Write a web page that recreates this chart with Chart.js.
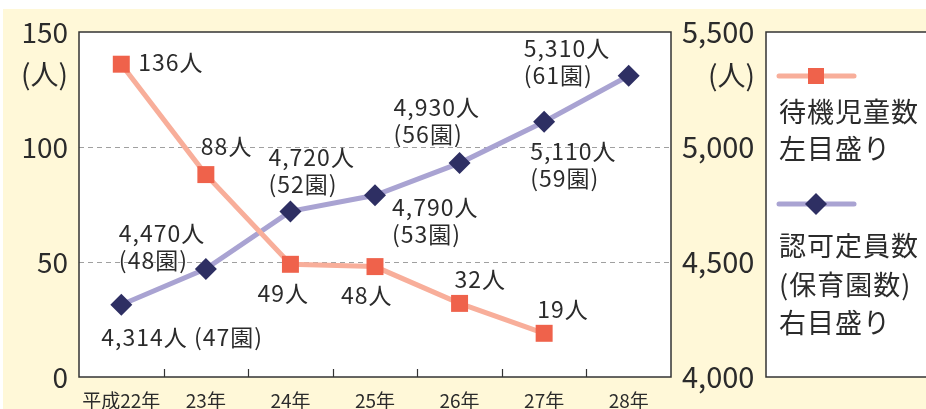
<!DOCTYPE html>
<html>
<head>
<meta charset="utf-8">
<script src="https://cdn.jsdelivr.net/npm/chart.js@4"></script>
<style>
  html, body { margin: 0; padding: 0; background: #fff; }
  #wrap { width: 926px; height: 409px; }
</style>
</head>
<body>
<div id="wrap"><canvas id="chart" width="926" height="409"></canvas></div>
<script>
const YEARS = ['平成22年', '23年', '24年', '25年', '26年', '27年', '28年'];
const WAITING = [136, 88, 49, 48, 32, 19, null];          // 待機児童数 (left axis)
const CAPACITY = [4314, 4470, 4720, 4790, 4930, 5110, 5310]; // 認可定員数 (right axis)
const NURSERIES = [47, 48, 52, 53, 56, 59, 61];            // 保育園数
const LEFT_TICKS = [0, 50, 100, 150];
const RIGHT_TICKS = [4000, 4500, 5000, 5500];

// where each label sits relative to its point: [dx to left edge, dy to first line]
const WAIT_LABEL_POS = [[17, -2], [-5, -28], [-33, 29], [-34, 29], [-5, -24], [-7, -24]];
const CAP_LABEL_POS = [[-20, 32], [-87, -36], [-22, -54], [17, 12], [-66, -56], [-14, 30], [-105, -27]];

const FONT = '"Noto Sans CJK JP", "Noto Sans", sans-serif';
const TEXT = '#2b2b2b';
const CREAM = '#fff8d8';

function fmt(v){ return v.toLocaleString('en-US'); }

const bgPlugin = {
  id: 'bg',
  beforeDraw(chart){
    const { ctx, chartArea: a, width, height } = chart;
    ctx.save();
    ctx.fillStyle = '#fff';
    ctx.fillRect(0, 0, width, height);
    ctx.fillStyle = CREAM;
    ctx.fillRect(3, 9, width - 3, height - 9);
    ctx.fillStyle = '#fff';
    ctx.fillRect(a.left, a.top, a.right - a.left, a.bottom - a.top);
    ctx.fillRect(766, a.top, width - 766, a.bottom - a.top);
    ctx.restore();
  },
  beforeDatasetsDraw(chart){
    const { ctx, chartArea: a, scales } = chart;
    ctx.save();
    ctx.strokeStyle = '#333';
    ctx.lineWidth = 1.5;
    ctx.strokeRect(a.left, a.top, a.right - a.left, a.bottom - a.top);
    // small inner ticks between categories
    ctx.lineWidth = 1.2;
    for (let i = 1; i < YEARS.length; i++) {
      const x = Math.round((scales.x.getPixelForValue(i - 1) + scales.x.getPixelForValue(i)) / 2) + 0.5;
      ctx.beginPath();
      ctx.moveTo(x, a.bottom);
      ctx.lineTo(x, a.bottom - 8);
      ctx.stroke();
    }
    // unit labels
    ctx.fillStyle = TEXT;
    ctx.font = '28px ' + FONT;
    ctx.textBaseline = 'middle';
    ctx.textAlign = 'right';
    ctx.fillText('(人)', 68, 74);
    ctx.fillText('(人)', 755, 75);
    ctx.restore();
  }
};

const labelPlugin = {
  id: 'pointLabels',
  afterDatasetsDraw(chart){
    const { ctx } = chart;
    ctx.save();
    ctx.fillStyle = TEXT;
    ctx.font = '23px ' + FONT;
    ctx.letterSpacing = '1px';
    ctx.textBaseline = 'middle';
    ctx.textAlign = 'left';
    chart.getDatasetMeta(0).data.forEach((pt, i) => {
      if (WAITING[i] == null) return;
      const [dx, dy] = WAIT_LABEL_POS[i];
      ctx.fillText(WAITING[i] + '人', pt.x + dx, pt.y + dy);
    });
    chart.getDatasetMeta(1).data.forEach((pt, i) => {
      const [dx, dy] = CAP_LABEL_POS[i];
      if (i === 0) {
        ctx.fillText(fmt(CAPACITY[i]) + '人 (' + NURSERIES[i] + '園)', pt.x + dx, pt.y + dy);
      } else {
        ctx.fillText(fmt(CAPACITY[i]) + '人', pt.x + dx, pt.y + dy);
        ctx.fillText('(' + NURSERIES[i] + '園)', pt.x + dx, pt.y + dy + 27);
      }
    });
    ctx.restore();
  }
};

const legendPlugin = {
  id: 'sideLegend',
  afterDraw(chart){
    const { ctx, chartArea: a, width } = chart;
    const ds = chart.data.datasets;
    ctx.save();
    ctx.strokeStyle = '#333';
    ctx.lineWidth = 1.5;
    ctx.strokeRect(766, a.top, width - 766 + 5, a.bottom - a.top);
    ctx.lineCap = 'round';
    ctx.lineWidth = 5;
    // sample 1
    ctx.strokeStyle = ds[0].borderColor;
    ctx.beginPath(); ctx.moveTo(779, 76); ctx.lineTo(854, 76); ctx.stroke();
    ctx.fillStyle = ds[0].pointBackgroundColor;
    ctx.fillRect(808, 68, 16, 16);
    // sample 2
    ctx.strokeStyle = ds[1].borderColor;
    ctx.beginPath(); ctx.moveTo(779, 204); ctx.lineTo(854, 204); ctx.stroke();
    ctx.fillStyle = ds[1].pointBackgroundColor;
    ctx.beginPath();
    ctx.moveTo(816, 193); ctx.lineTo(827, 204); ctx.lineTo(816, 215); ctx.lineTo(805, 204);
    ctx.closePath(); ctx.fill();
    ctx.fillStyle = TEXT;
    ctx.font = '27px ' + FONT;
    ctx.letterSpacing = '1px';
    ctx.textBaseline = 'middle';
    ctx.textAlign = 'left';
    ctx.fillText('待機児童数', 779, 112);
    ctx.fillText('左目盛り', 779, 149);
    ctx.fillText('認可定員数', 779, 246);
    ctx.fillText('(保育園数)', 779, 285);
    ctx.fillText('右目盛り', 779, 323);
    ctx.restore();
  }
};

const ctx = document.getElementById('chart').getContext('2d');
new Chart(ctx, {
  type: 'line',
  data: {
    labels: YEARS,
    datasets: [
      {
        label: '待機児童数',
        data: WAITING,
        yAxisID: 'y',
        borderColor: '#f8ae9a',
        borderWidth: 5,
        pointStyle: 'rect',
        pointRadius: 12,
        pointBackgroundColor: '#ef624b',
        pointBorderWidth: 0,
        tension: 0
      },
      {
        label: '認可定員数',
        data: CAPACITY,
        yAxisID: 'y2',
        borderColor: '#a9a3d2',
        borderWidth: 5,
        pointStyle: 'rectRot',
        pointRadius: 11,
        pointBackgroundColor: '#2e2f63',
        pointBorderWidth: 0,
        tension: 0
      }
    ]
  },
  options: {
    responsive: false,
    animation: false,
    devicePixelRatio: 1,
    layout: { padding: { top: 32, right: 160, bottom: 0, left: 0 } },
    plugins: { legend: { display: false }, tooltip: { enabled: false } },
    scales: {
      x: {
        offset: true,
        grid: { display: false },
        border: { display: false },
        ticks: { color: TEXT, font: { family: FONT, size: 19 }, padding: 4, maxRotation: 0 },
        afterFit(s){ s.height = 32; }
      },
      y: {
        position: 'left',
        min: 0, max: 150,
        afterBuildTicks(s){ s.ticks = LEFT_TICKS.map(v => ({ value: v })); },
        grid: {
          color: c => (c.tick && (c.tick.value === 50 || c.tick.value === 100)) ? '#a0a0a0' : 'rgba(0,0,0,0)',
          lineWidth: 1,
          drawTicks: false
        },
        border: { display: false, dash: [5, 4] },
        ticks: { color: TEXT, font: { family: FONT, size: 28 }, padding: 11 },
        afterFit(s){ s.width = 79; }
      },
      y2: {
        position: 'right',
        min: 4000, max: 5500,
        afterBuildTicks(s){ s.ticks = RIGHT_TICKS.map(v => ({ value: v })); },
        grid: { drawOnChartArea: false, drawTicks: false },
        border: { display: false },
        ticks: { color: TEXT, font: { family: FONT, size: 29 }, padding: 11, callback: v => fmt(v) },
        afterFit(s){ s.width = 95; }
      }
    }
  },
  plugins: [bgPlugin, labelPlugin, legendPlugin]
});
</script>
</body>
</html>
